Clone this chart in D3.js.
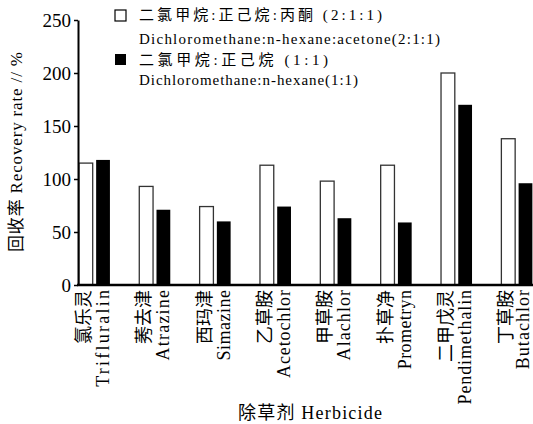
<!DOCTYPE html>
<html>
  <head>
    <meta http-equiv="Content-Type" content="text/html; charset=UTF-8">
    <style type="text/css">
      body { margin: 0; background: #fff; }
      text {
        font-family: 'Liberation Serif', 'Noto Sans CJK SC', serif;
        fill: #000;
      }
    </style>
  </head>
  <body>
    <div id="canvas"></div>
    <script src="https://d3js.org/d3.v7.min.js"></script>
    <script type="text/javascript">
      // herbicide names, chinese + english
      var categoriesZh = ['氯乐灵', '莠去津', '西玛津', '乙草胺', '甲草胺', '扑草净', '二甲戊灵', '丁草胺'];
      var categoriesEn = ['Trifluralin', 'Atrazine', 'Simazine', 'Acetochlor', 'Alachlor', 'Prometryn', 'Pendimethalin', 'Butachlor'];
      // recovery rate %
      var mixA = [115, 93, 74, 113, 98, 113, 200, 138];   // 2:1:1
      var mixB = [118, 71, 60, 74, 63, 59, 170, 96];      // 1:1
      var seriesKeys = ['a', 'b'];
      var yTicks = [0, 50, 100, 150, 200, 250];
      var legendLines = [
        '二氯甲烷:正己烷:丙酮 (2:1:1)',
        'Dichloromethane:n-hexane:acetone(2:1:1)',
        '二氯甲烷:正己烷 (1:1)',
        'Dichloromethane:n-hexane(1:1)'
      ];

      var width = 533, height = 424;
      var axisX = 78, baseY = 285;

      var svg = d3.select('#canvas').append('svg')
        .attr('width', width)
        .attr('height', height);

      var y = d3.scaleLinear().domain([0, 250]).range([baseY, 20]);

      var x0 = d3.scaleBand()
        .domain(categoriesEn)
        .range([64.25, 64.25 + 8 * 60.35])
        .padding(0);

      var pairW = 31;
      var x1 = d3.scaleBand()
        .domain(seriesKeys)
        .range([0, pairW])
        .paddingInner(0.2);
      var pairOff = (x0.bandwidth() - pairW) / 2;

      var rows = categoriesEn.map(function (c, i) {
        return {en: c, zh: categoriesZh[i], a: mixA[i], b: mixB[i]};
      });

      // bars
      var g = svg.selectAll('g.grp')
        .data(rows)
        .enter().append('g')
        .attr('class', 'grp')
        .attr('transform', function (d) { return 'translate(' + (x0(d.en) + pairOff) + ',0)'; });

      g.selectAll('rect')
        .data(function (d) { return seriesKeys.map(function (k) { return {k: k, v: d[k]}; }); })
        .enter().append('rect')
        .attr('x', function (d) { return x1(d.k); })
        .attr('width', x1.bandwidth())
        .attr('y', function (d) { return y(d.v); })
        .attr('height', function (d) { return baseY - y(d.v); })
        .style('fill', function (d) { return d.k == 'a' ? '#fff' : '#000'; })
        .style('stroke', function (d) { return d.k == 'a' ? '#333' : 'none'; })
        .style('stroke-width', 1.3);

      // x labels, rotated
      g.append('text')
        .attr('transform', function (d) {
          return 'translate(' + (x1('a') + x1.bandwidth() / 2 - 2) + ',290) rotate(-90)';
        })
        .attr('text-anchor', 'end')
        .attr('dominant-baseline', 'central')
        .style('font-size', '18px')
        .text(function (d) { return d.zh; });

      g.append('text')
        .attr('transform', function (d) {
          // keep the last label inside the page
          var cx = x1('b') + x1.bandwidth() / 2;
          var abs = x0(d.en) + pairOff + cx;
          if (abs > 523) cx -= abs - 523;
          return 'translate(' + cx + ',290) rotate(-90)';
        })
        .attr('text-anchor', 'end')
        .attr('dominant-baseline', 'central')
        .attr('textLength', function (d) { return d.en.length * 8.8; })
        .attr('lengthAdjust', 'spacing')
        .style('font-size', '18px')
        .text(function (d) { return d.en; });

      // y axis
      var yAxis = svg.append('g')
        .attr('transform', 'translate(' + axisX + ',0)')
        .call(d3.axisLeft(y).tickValues(yTicks).tickSize(4).tickSizeOuter(0).tickPadding(3));
      yAxis.select('.domain').attr('stroke', '#000').attr('stroke-width', 2);
      yAxis.selectAll('.tick line').attr('stroke', '#000').attr('stroke-width', 1.5);
      yAxis.selectAll('.tick text')
        .style('font-family', "'Liberation Serif', serif")
        .style('font-size', '19px');

      // x baseline
      svg.append('line')
        .attr('x1', axisX - 1).attr('x2', width)
        .attr('y1', baseY).attr('y2', baseY)
        .attr('stroke', '#000')
        .attr('stroke-width', 2.5);

      // axis titles
      svg.append('text')
        .attr('transform', 'translate(16,152) rotate(-90)')
        .attr('text-anchor', 'middle')
        .attr('dominant-baseline', 'central')
        .attr('textLength', 200)
        .attr('lengthAdjust', 'spacing')
        .style('font-size', '17px')
        .text('回收率 Recovery rate // %');

      svg.append('text')
        .attr('x', 310)
        .attr('y', 413)
        .attr('text-anchor', 'middle')
        .attr('dominant-baseline', 'central')
        .attr('textLength', 144)
        .attr('lengthAdjust', 'spacing')
        .style('font-size', '18px')
        .text('除草剂 Herbicide');

      // legend
      svg.append('rect')
        .attr('x', 115).attr('y', 10).attr('width', 11).attr('height', 11)
        .style('fill', '#fff').style('stroke', '#000').style('stroke-width', 1.2);
      svg.append('rect')
        .attr('x', 115).attr('y', 54).attr('width', 11).attr('height', 11)
        .style('fill', '#000');

      var lineY = [15, 39, 60, 80];
      var lineW = [243, 301, 189, 219];
      svg.selectAll('text.leg')
        .data(legendLines)
        .enter().append('text')
        .attr('class', 'leg')
        .attr('x', 139)
        .attr('y', function (d, i) { return lineY[i]; })
        .attr('dominant-baseline', 'central')
        .attr('textLength', function (d, i) { return lineW[i]; })
        .attr('lengthAdjust', 'spacing')
        .style('font-size', '15px')
        .text(function (d) { return d; });
    </script>
  </body>
</html>
